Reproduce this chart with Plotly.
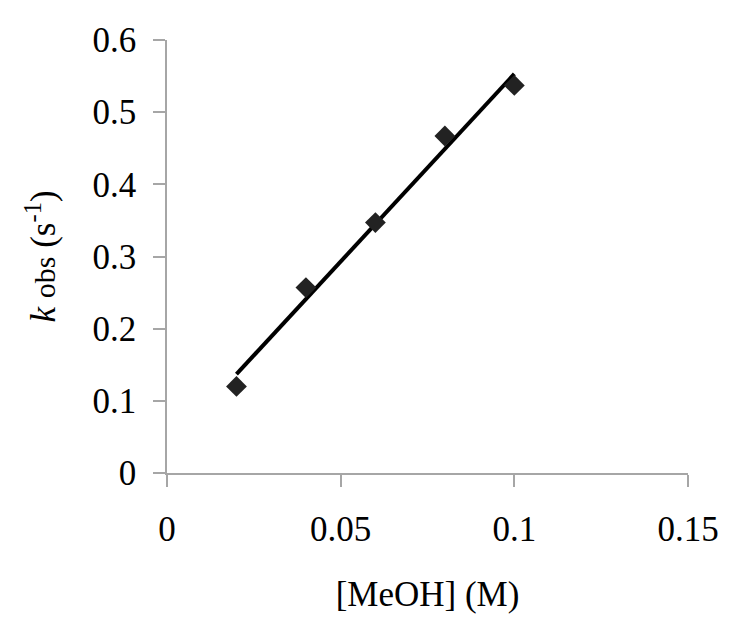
import plotly.graph_objects as go

meoh = [0.02, 0.04, 0.06, 0.08, 0.10]
kobs = [0.120, 0.257, 0.347, 0.467, 0.537]
fit_x = [0.02, 0.10]
fit_y = [0.137, 0.553]
x_ticks = [0, 0.05, 0.1, 0.15]
x_tick_labels = ["0", "0.05", "0.1", "0.15"]
y_ticks = [0, 0.1, 0.2, 0.3, 0.4, 0.5, 0.6]
y_tick_labels = ["0", "0.1", "0.2", "0.3", "0.4", "0.5", "0.6"]

fig = go.Figure()
fig.add_trace(go.Scatter(x=fit_x, y=fit_y, mode="lines",
                         line=dict(color="black", width=4), showlegend=False))
fig.add_trace(go.Scatter(x=meoh, y=kobs, mode="markers",
                         marker=dict(symbol="diamond", size=16, color="#222222"),
                         showlegend=False))

font = dict(family="Liberation Serif, serif", size=35, color="black")
axis_common = dict(showgrid=False, zeroline=False, showline=True, linecolor="#a6a6a6",
                   linewidth=1.5, ticks="outside", ticklen=12, tickcolor="#a6a6a6",
                   tickwidth=1.5, tickfont=font)
fig.update_layout(
    width=742, height=622,
    margin=dict(l=159, r=62, t=32, b=157),
    plot_bgcolor="white", paper_bgcolor="white",
    font=font,
    xaxis=dict(range=[0, 0.15], tickvals=x_ticks, ticktext=x_tick_labels,
               ticklabelstandoff=12,
               title=dict(text="[MeOH] (M)", font=font, standoff=34), **axis_common),
    yaxis=dict(range=[0, 0.6], tickvals=y_ticks, ticktext=y_tick_labels,
               ticklabelstandoff=10,
               title=dict(text="<i>k</i> <span style='font-size:30px'>obs</span> (s<sup>-1</sup>)",
                          font=font, standoff=26), **axis_common),
)
fig.write_html("out.html")
